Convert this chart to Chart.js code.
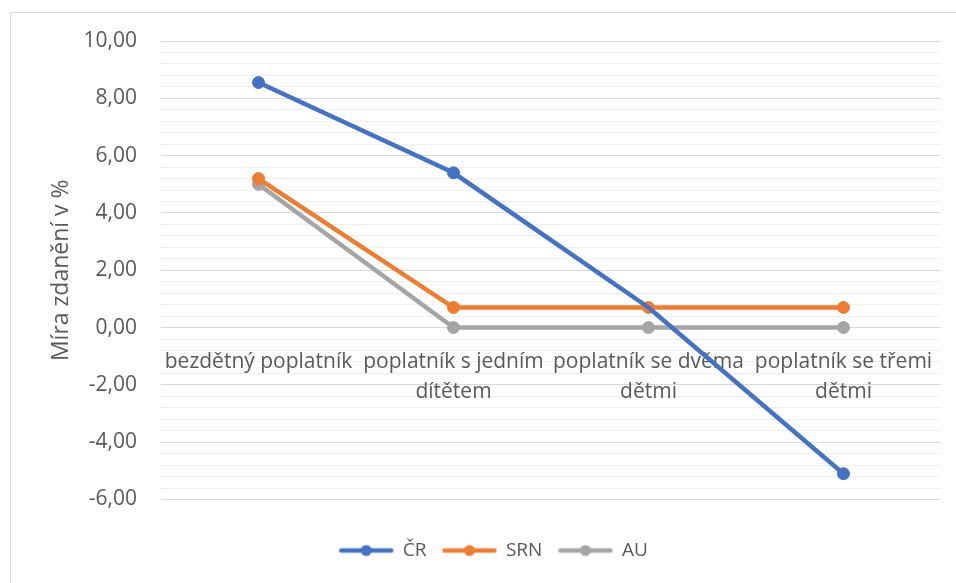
<!DOCTYPE html>
<html>
<head>
<meta charset="utf-8">
<script src="https://cdn.jsdelivr.net/npm/chart.js@4.4.0/dist/chart.umd.min.js"></script>
<style>
    html, body { margin: 0; padding: 0; background: #fff; overflow: hidden; }
    #frame { position: absolute; left: 10px; top: 12px; width: 1000px; height: 1000px; border: 1px solid #d9d9d9; }
    #wrap { position: absolute; left: 0; top: 0; width: 956px; height: 583px; }
</style>
</head>
<body>
<div id="frame"></div>
<div id="wrap"><canvas id="chart" width="956" height="583"></canvas></div>
<script>
// categories (multi-line labels as in the original)
const categories = [
    ['bezdětný poplatník'],
    ['poplatník s jedním', 'dítětem'],
    ['poplatník se dvěma', 'dětmi'],
    ['poplatník se třemi', 'dětmi']
];
const seriesNames = ['ČR', 'SRN', 'AU'];
const crValues = [8.55, 5.40, 0.70, -5.10];
const srnValues = [5.20, 0.70, 0.70, 0.70];
const auValues = [5.00, 0.00, 0.00, 0.00];
const seriesColors = ['#4472C4', '#ED7D31', '#A5A5A5'];
const yTicks = [-6, -4, -2, 0, 2, 4, 6, 8, 10];
const yTitle = 'Míra zdanění v %';

const textColor = '#595959';
const fontFamily = "'Open Sans', 'Liberation Sans', sans-serif";

// small line + dot image for the legend
function legendMark(color) {
    const c = document.createElement('canvas');
    c.width = 56;
    c.height = 14;
    const g = c.getContext('2d');
    g.strokeStyle = color;
    g.lineWidth = 4.5;
    g.lineCap = 'round';
    g.beginPath();
    g.moveTo(3, 7);
    g.lineTo(53, 7);
    g.stroke();
    g.fillStyle = color;
    g.beginPath();
    g.arc(28, 7, 5.5, 0, Math.PI * 2);
    g.fill();
    return c;
}
const marks = seriesColors.map(legendMark);

function isMajor(v) {
    return yTicks.some(t => Math.abs(t - v) < 1e-6);
}

function makeSeries(name, values, color, radius) {
    return {
        label: name,
        data: values,
        borderColor: color,
        backgroundColor: color,
        borderWidth: 4.5,
        pointRadius: radius,
        pointBorderWidth: 1,
        pointBorderColor: color,
        pointBackgroundColor: color,
        tension: 0
    };
}

const ctx = document.getElementById('chart').getContext('2d');

new Chart(ctx, {
    type: 'line',
    data: {
        labels: categories,
        datasets: [
            makeSeries(seriesNames[0], crValues, seriesColors[0], [6, 6, 0, 6]),
            makeSeries(seriesNames[1], srnValues, seriesColors[1], 6),
            makeSeries(seriesNames[2], auValues, seriesColors[2], 6)
        ]
    },
    options: {
        responsive: false,
        animation: false,
        layout: {
            padding: { left: 46, right: 15, top: 41, bottom: 13 }
        },
        scales: {
            x: {
                position: { y: 0 },
                offset: true,
                afterFit: function (scale) { scale.height = 0; },
                grid: { display: false },
                border: { display: false },
                ticks: {
                    color: textColor,
                    font: { family: fontFamily, size: 21, lineHeight: 1.45 },
                    padding: 11,
                    maxRotation: 0,
                    autoSkip: false
                }
            },
            y: {
                min: yTicks[0],
                max: yTicks[yTicks.length - 1],
                afterFit: function (scale) { scale.width = 115; },
                border: { display: false },
                grid: {
                    drawTicks: false,
                    color: function (c) { return isMajor(c.tick.value) ? '#d9d9d9' : '#efefef'; },
                    lineWidth: 1
                },
                ticks: {
                    stepSize: 0.4,
                    autoSkip: false,
                    padding: 24,
                    color: textColor,
                    font: { family: fontFamily, size: 21 },
                    callback: function (v) {
                        return isMajor(v) ? Number(v).toFixed(2).replace('.', ',') : '';
                    }
                },
                title: {
                    display: true,
                    text: yTitle,
                    color: textColor,
                    font: { family: fontFamily, size: 23 },
                    padding: { top: 2, bottom: 0 }
                }
            }
        },
        plugins: {
            tooltip: { enabled: false },
            legend: {
                position: 'bottom',
                title: {
                    display: true,
                    text: '',
                    font: { size: 1 },
                    padding: { top: 0, bottom: 24.3 }
                },
                labels: {
                    usePointStyle: true,
                    pointStyleWidth: 54,
                    padding: 16,
                    color: textColor,
                    font: { family: fontFamily, size: 19 },
                    generateLabels: function (chart) {
                        const items = Chart.defaults.plugins.legend.labels.generateLabels(chart);
                        items.forEach((it, i) => { it.pointStyle = marks[i]; });
                        return items;
                    }
                }
            }
        }
    }
});
</script>
</body>
</html>
